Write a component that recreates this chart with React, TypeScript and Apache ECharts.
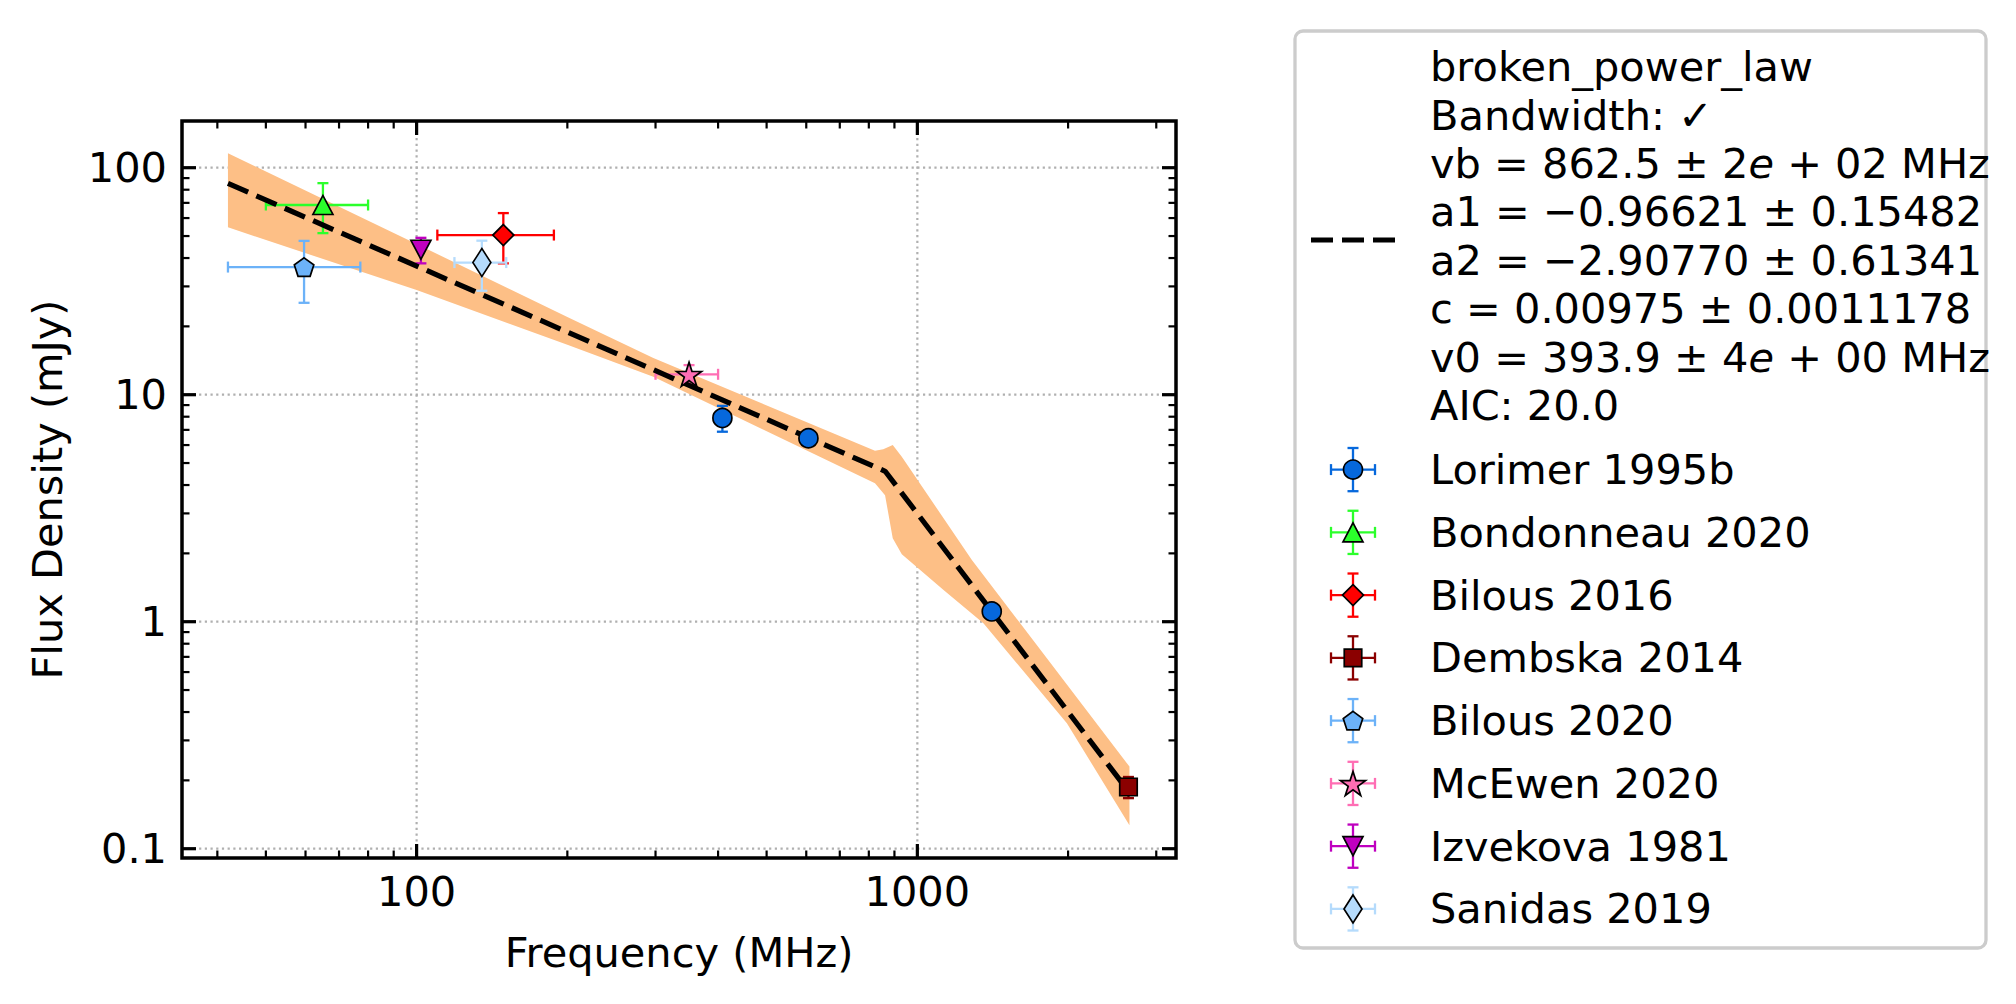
import React, { useEffect, useRef } from 'react';
import * as echarts from 'echarts';

// ---- Flux density measurements: frequency (MHz), flux (mJy), 1-sigma errors ----
const LORIMER_FREQ = [408, 606, 1408];
const LORIMER_FLUX = [7.9, 6.43, 1.11];
const LORIMER_FREQ_ERR = [0, 0, 0];
const LORIMER_FLUX_ERR = [1.03, 0.3, 0.08];

const BONDONNEAU_FREQ = [65];
const BONDONNEAU_FLUX = [68.5];
const BONDONNEAU_FREQ_ERR = [15];
const BONDONNEAU_FLUX_ERR = [17];

const BILOUS16_FREQ = [149];
const BILOUS16_FLUX = [50.5];
const BILOUS16_FREQ_ERR = [39];
const BILOUS16_FLUX_ERR = [12.6];

const DEMBSKA_FREQ = [2640];
const DEMBSKA_FLUX = [0.187];
const DEMBSKA_FREQ_ERR = [0];
const DEMBSKA_FLUX_ERR = [0.02];

const BILOUS20_FREQ = [59.6];
const BILOUS20_FLUX = [36.5];
const BILOUS20_FREQ_ERR = [17.6];
const BILOUS20_FLUX_ERR = [11.1];

const MCEWEN_FREQ = [350];
const MCEWEN_FLUX = [12.3];
const MCEWEN_FREQ_ERR = [50];
const MCEWEN_FLUX_ERR = [1.2];

const IZVEKOVA_FREQ = [102];
const IZVEKOVA_FLUX = [43.5];
const IZVEKOVA_FREQ_ERR = [0];
const IZVEKOVA_FLUX_ERR = [5.6];

const SANIDAS_FREQ = [135];
const SANIDAS_FLUX = [38.2];
const SANIDAS_FREQ_ERR = [16];
const SANIDAS_FLUX_ERR = [9.5];

// ---- Broken power-law fit (line through the break) and its uncertainty envelope ----
const FIT_FREQ = [42, 862.5, 2650];
const FIT_FLUX = [85.3, 4.6, 0.177];

const BAND_UPPER_FREQ = [42, 100, 200, 297, 823, 855, 893, 931, 1285, 2652];
const BAND_UPPER_FLUX = [115.7, 46.1, 22.0, 14.5, 5.67, 5.75, 6.0, 5.33, 1.87, 0.23];
const BAND_LOWER_FREQ = [42, 100, 200, 297, 823, 862, 893, 931, 1128, 1355, 1989, 2652];
const BAND_LOWER_FLUX = [54.6, 28.9, 16.6, 12.0, 4.07, 3.61, 2.33, 1.98, 1.38, 0.984, 0.357, 0.127];

// ---- Axes ----
const FREQ_MIN = 34.0;
const FREQ_MAX = 3285;
const FLUX_MIN = 0.091;
const FLUX_MAX = 160.6;
const FREQ_MAJOR_TICKS = [100, 1000];
const FREQ_MINOR_TICKS = [40, 50, 60, 70, 80, 90, 200, 300, 400, 500, 600, 700, 800, 900, 2000, 3000];
const FLUX_MAJOR_TICKS = [0.1, 1, 10, 100];
const FLUX_MINOR_TICKS = [
  0.2, 0.3, 0.4, 0.5, 0.6, 0.7, 0.8, 0.9,
  2, 3, 4, 5, 6, 7, 8, 9,
  20, 30, 40, 50, 60, 70, 80, 90,
];

// ---- Legend text ----
const FIT_LABEL_LINES = [
  'broken_power_law',
  'Bandwidth: ✓',
  'vb = 862.5 ± 2{it|e} + 02 MHz',
  'a1 = −0.96621 ± 0.15482',
  'a2 = −2.90770 ± 0.61341',
  'c = 0.00975 ± 0.0011178',
  'v0 = 393.9 ± 4{it|e} + 00 MHz',
  'AIC: 20.0',
];
const X_TITLE = 'Frequency (MHz)';
const Y_TITLE = 'Flux Density (mJy)';

// ---- Styling ----
const FONT = 'DejaVu Sans';
const FS = 41.5;
const BAND_COLOR = '#fdbf86';

type Shape = 'circle' | 'rect' | 'triangle' | 'triangleDown' | 'diamond' | 'pentagon' | 'star';

const UNIT_SHAPES: Record<string, number[][]> = {
  triangle: [[0, -1], [1, 1], [-1, 1]],
  triangleDown: [[-1, -1], [1, -1], [0, 1]],
  diamond: [[0, -1], [1, 0], [0, 1], [-1, 0]],
  pentagon: [[0, -1], [1, -0.236], [0.618, 1], [-0.618, 1], [-1, -0.236]],
  star: [
    [0, -1], [0.236, -0.236], [1, -0.236], [0.382, 0.236], [0.618, 1],
    [0, 0.528], [-0.618, 1], [-0.382, 0.236], [-1, -0.236], [-0.236, -0.236],
  ],
};

function symbolFor(shape: Shape): string {
  if (shape === 'circle' || shape === 'rect') return shape;
  const pts = UNIT_SHAPES[shape];
  return 'path://M' + pts.map((p) => p[0] + ',' + p[1]).join('L') + 'Z';
}

interface Survey {
  name: string;
  freq: number[];
  flux: number[];
  freqErr: number[];
  fluxErr: number[];
  color: string;
  shape: Shape;
  size: [number, number];
}

const SURVEYS: Survey[] = [
  { name: 'Lorimer 1995b', freq: LORIMER_FREQ, flux: LORIMER_FLUX, freqErr: LORIMER_FREQ_ERR, fluxErr: LORIMER_FLUX_ERR, color: '#0668dc', shape: 'circle', size: [19, 19] },
  { name: 'Bondonneau 2020', freq: BONDONNEAU_FREQ, flux: BONDONNEAU_FLUX, freqErr: BONDONNEAU_FREQ_ERR, fluxErr: BONDONNEAU_FLUX_ERR, color: '#2bff2b', shape: 'triangle', size: [20, 19] },
  { name: 'Bilous 2016', freq: BILOUS16_FREQ, flux: BILOUS16_FLUX, freqErr: BILOUS16_FREQ_ERR, fluxErr: BILOUS16_FLUX_ERR, color: '#ff0000', shape: 'diamond', size: [21, 21] },
  { name: 'Dembska 2014', freq: DEMBSKA_FREQ, flux: DEMBSKA_FLUX, freqErr: DEMBSKA_FREQ_ERR, fluxErr: DEMBSKA_FLUX_ERR, color: '#8b0000', shape: 'rect', size: [17.5, 17.5] },
  { name: 'Bilous 2020', freq: BILOUS20_FREQ, flux: BILOUS20_FLUX, freqErr: BILOUS20_FREQ_ERR, fluxErr: BILOUS20_FLUX_ERR, color: '#6cb2f8', shape: 'pentagon', size: [19.5, 18.5] },
  { name: 'McEwen 2020', freq: MCEWEN_FREQ, flux: MCEWEN_FLUX, freqErr: MCEWEN_FREQ_ERR, fluxErr: MCEWEN_FLUX_ERR, color: '#ff6eb4', shape: 'star', size: [25, 24] },
  { name: 'Izvekova 1981', freq: IZVEKOVA_FREQ, flux: IZVEKOVA_FLUX, freqErr: IZVEKOVA_FREQ_ERR, fluxErr: IZVEKOVA_FLUX_ERR, color: '#bf00bf', shape: 'triangleDown', size: [20, 19] },
  { name: 'Sanidas 2019', freq: SANIDAS_FREQ, flux: SANIDAS_FLUX, freqErr: SANIDAS_FREQ_ERR, fluxErr: SANIDAS_FLUX_ERR, color: '#b5dbfc', shape: 'diamond', size: [18, 28] },
];

const GRID = { left: 182, top: 121, width: 994, height: 737 };
const ERR_WIDTH = 2.3;
const CAP_HALF = 5.5;
const MARKER_EDGE = 1.7;

function tickLabel(v: number): string {
  const e = Math.log10(v);
  const r = Math.round(e);
  if (Math.abs(e - r) > 1e-6) return '';
  return r >= 0 ? String(Math.pow(10, r)) : Math.pow(10, r).toFixed(-r);
}

function errorBarSeries(s: Survey) {
  return {
    type: 'custom',
    name: s.name,
    z: 3,
    silent: true,
    data: s.freq.map((f, i) => [f, s.flux[i], s.freqErr[i], s.fluxErr[i]]),
    encode: { x: 0, y: 1 },
    renderItem: (_params: any, api: any) => {
      const f = api.value(0) as number;
      const v = api.value(1) as number;
      const fe = api.value(2) as number;
      const ve = api.value(3) as number;
      const style = { stroke: s.color, lineWidth: ERR_WIDTH, fill: null };
      const children: any[] = [];
      if (fe > 0) {
        const a = api.coord([f - fe, v]);
        const b = api.coord([f + fe, v]);
        children.push({ type: 'line', shape: { x1: a[0], y1: a[1], x2: b[0], y2: b[1] }, style });
        children.push({ type: 'line', shape: { x1: a[0], y1: a[1] - CAP_HALF, x2: a[0], y2: a[1] + CAP_HALF }, style });
        children.push({ type: 'line', shape: { x1: b[0], y1: b[1] - CAP_HALF, x2: b[0], y2: b[1] + CAP_HALF }, style });
      }
      if (ve > 0) {
        const a = api.coord([f, v - ve]);
        const b = api.coord([f, v + ve]);
        children.push({ type: 'line', shape: { x1: a[0], y1: a[1], x2: b[0], y2: b[1] }, style });
        children.push({ type: 'line', shape: { x1: a[0] - CAP_HALF, y1: a[1], x2: a[0] + CAP_HALF, y2: a[1] }, style });
        children.push({ type: 'line', shape: { x1: b[0] - CAP_HALF, y1: b[1], x2: b[0] + CAP_HALF, y2: b[1] }, style });
      }
      return { type: 'group', children };
    },
  };
}

function markerSeries(s: Survey) {
  return {
    type: 'scatter',
    name: s.name,
    z: 5,
    silent: true,
    data: s.freq.map((f, i) => [f, s.flux[i]]),
    symbol: symbolFor(s.shape),
    symbolSize: s.size,
    itemStyle: { color: s.color, borderColor: '#000', borderWidth: MARKER_EDGE, opacity: 1 },
    emphasis: { disabled: true },
  };
}

// Inward-pointing major and minor ticks on all four sides of the frame
function tickSeries(axis: 'x' | 'y') {
  const majors = axis === 'x' ? FREQ_MAJOR_TICKS : FLUX_MAJOR_TICKS;
  const minors = axis === 'x' ? FREQ_MINOR_TICKS : FLUX_MINOR_TICKS;
  const toItem = (t: number, major: number) => (axis === 'x' ? [t, FLUX_MIN, major] : [FREQ_MIN, t, major]);
  return {
    type: 'custom',
    z: 10,
    silent: true,
    data: [...majors.map((t) => toItem(t, 1)), ...minors.map((t) => toItem(t, 0))],
    encode: { x: 0, y: 1 },
    renderItem: (params: any, api: any) => {
      const cs = params.coordSys;
      const major = api.value(2) === 1;
      const len = major ? 14 : 7.5;
      const style = { stroke: '#000', lineWidth: major ? 3.2 : 2.2 };
      const p = api.coord([api.value(0), api.value(1)]);
      if (axis === 'x') {
        const bottom = cs.y + cs.height;
        const top = cs.y;
        return {
          type: 'group',
          children: [
            { type: 'line', shape: { x1: p[0], y1: bottom, x2: p[0], y2: bottom - len }, style },
            { type: 'line', shape: { x1: p[0], y1: top, x2: p[0], y2: top + len }, style },
          ],
        };
      }
      const left = cs.x;
      const right = cs.x + cs.width;
      return {
        type: 'group',
        children: [
          { type: 'line', shape: { x1: left, y1: p[1], x2: left + len, y2: p[1] }, style },
          { type: 'line', shape: { x1: right, y1: p[1], x2: right - len, y2: p[1] }, style },
        ],
      };
    },
  };
}

// Dotted grid lines at the major ticks only
function gridLineSeries(axis: 'x' | 'y') {
  const majors = axis === 'x' ? FREQ_MAJOR_TICKS : FLUX_MAJOR_TICKS;
  return {
    type: 'custom',
    z: 0,
    silent: true,
    data: majors.map((t) => (axis === 'x' ? [t, FLUX_MIN] : [FREQ_MIN, t])),
    encode: { x: 0, y: 1 },
    renderItem: (params: any, api: any) => {
      const cs = params.coordSys;
      const p = api.coord([api.value(0), api.value(1)]);
      const style = { stroke: '#b0b0b0', lineWidth: 2.2, lineDash: [2.2, 3.5] };
      if (axis === 'x') {
        return { type: 'line', shape: { x1: p[0], y1: cs.y, x2: p[0], y2: cs.y + cs.height }, style };
      }
      return { type: 'line', shape: { x1: cs.x, y1: p[1], x2: cs.x + cs.width, y2: p[1] }, style };
    },
  };
}

const bandSeries = {
  type: 'custom',
  z: 1,
  silent: true,
  data: [[BAND_UPPER_FREQ[0], BAND_UPPER_FLUX[0]]],
  encode: { x: 0, y: 1 },
  renderItem: (_params: any, api: any) => {
    const upper = BAND_UPPER_FREQ.map((f, i) => api.coord([f, BAND_UPPER_FLUX[i]]));
    const lower = BAND_LOWER_FREQ.map((f, i) => api.coord([f, BAND_LOWER_FLUX[i]])).reverse();
    return {
      type: 'polygon',
      shape: { points: [...upper, ...lower] },
      style: { fill: BAND_COLOR, stroke: null },
    };
  },
};

const fitSeries = {
  type: 'line',
  z: 4,
  silent: true,
  data: FIT_FREQ.map((f, i) => [f, FIT_FLUX[i]]),
  symbol: 'none',
  showSymbol: false,
  lineStyle: { color: '#000', width: 5.2, type: [22, 9] },
};

// ---- Legend drawn as graphic elements ----
const LEG = {
  x: 1295, y: 31, w: 691, h: 917,
  fitHandleX1: 1311, fitHandleX2: 1395, fitHandleY: 240,
  textX: 1430,
  fitTextY0: 66.6, fitTextStep: 48.4,
  entryY0: 469.6, entryStep: 62.76,
  handleCx: 1353, handleHalfW: 22, handleHalfH: 21.6,
};

function markerGraphic(shape: Shape, cx: number, cy: number, size: [number, number], fill: string) {
  const style = { fill, stroke: '#000', lineWidth: MARKER_EDGE };
  const [w, h] = size;
  if (shape === 'circle') return { type: 'circle', shape: { cx, cy, r: w / 2 }, style };
  if (shape === 'rect') return { type: 'rect', shape: { x: cx - w / 2, y: cy - h / 2, width: w, height: h }, style };
  const pts = UNIT_SHAPES[shape].map((p) => [cx + (p[0] * w) / 2, cy + (p[1] * h) / 2]);
  return { type: 'polygon', shape: { points: pts }, style };
}

function legendElements() {
  const els: any[] = [];
  els.push({
    type: 'rect',
    shape: { x: LEG.x, y: LEG.y, width: LEG.w, height: LEG.h, r: 8 },
    style: { fill: '#fff', stroke: '#cccccc', lineWidth: 3.3 },
    z: 100,
  });
  els.push({
    type: 'line',
    shape: { x1: LEG.fitHandleX1, y1: LEG.fitHandleY, x2: LEG.fitHandleX2, y2: LEG.fitHandleY },
    style: { stroke: '#000', lineWidth: 5.2, lineDash: [22, 9] },
    z: 101,
  });
  FIT_LABEL_LINES.forEach((line, k) => {
    els.push({
      type: 'text',
      x: LEG.textX,
      y: LEG.fitTextY0 + k * LEG.fitTextStep,
      z: 101,
      style: {
        text: line,
        fontFamily: FONT,
        fontSize: FS,
        fill: '#000',
        align: 'left',
        verticalAlign: 'middle',
        rich: { it: { fontFamily: FONT, fontSize: FS, fontStyle: 'italic', fill: '#000' } },
      },
    });
  });
  SURVEYS.forEach((s, k) => {
    const cy = LEG.entryY0 + k * LEG.entryStep;
    const cx = LEG.handleCx;
    const st = { stroke: s.color, lineWidth: ERR_WIDTH };
    const hx1 = cx - LEG.handleHalfW;
    const hx2 = cx + LEG.handleHalfW;
    const vy1 = cy - LEG.handleHalfH;
    const vy2 = cy + LEG.handleHalfH;
    const lines = [
      [hx1, cy, hx2, cy],
      [hx1, cy - CAP_HALF, hx1, cy + CAP_HALF],
      [hx2, cy - CAP_HALF, hx2, cy + CAP_HALF],
      [cx, vy1, cx, vy2],
      [cx - CAP_HALF, vy1, cx + CAP_HALF, vy1],
      [cx - CAP_HALF, vy2, cx + CAP_HALF, vy2],
    ];
    lines.forEach((l) => {
      els.push({ type: 'line', shape: { x1: l[0], y1: l[1], x2: l[2], y2: l[3] }, style: st, z: 101 });
    });
    els.push({ ...markerGraphic(s.shape, cx, cy, s.size, s.color), z: 102 });
    els.push({
      type: 'text',
      x: LEG.textX,
      y: cy,
      z: 101,
      style: { text: s.name, fontFamily: FONT, fontSize: FS, fill: '#000', align: 'left', verticalAlign: 'middle' },
    });
  });
  return els;
}

function buildOption() {
  const labelStyle = { fontFamily: FONT, fontSize: FS, color: '#000', formatter: tickLabel };
  return {
    animation: false,
    backgroundColor: '#fff',
    textStyle: { fontFamily: FONT },
    grid: {
      ...GRID,
      show: true,
      borderColor: '#000',
      borderWidth: 3.5,
      backgroundColor: 'transparent',
      containLabel: false,
      outerBoundsMode: 'none',
      z: 20,
    },
    xAxis: {
      type: 'log',
      logBase: 10,
      min: FREQ_MIN,
      max: FREQ_MAX,
      name: X_TITLE,
      nameLocation: 'middle',
      nameGap: 73.5,
      nameTextStyle: { fontFamily: FONT, fontSize: FS, color: '#000' },
      axisLine: { show: false },
      axisTick: { show: false },
      minorTick: { show: false },
      axisLabel: { ...labelStyle, margin: 12 },
      splitLine: { show: false },
    },
    yAxis: {
      type: 'log',
      logBase: 10,
      min: FLUX_MIN,
      max: FLUX_MAX,
      name: Y_TITLE,
      nameLocation: 'middle',
      nameGap: 114,
      nameRotate: 90,
      nameTextStyle: { fontFamily: FONT, fontSize: FS, color: '#000' },
      axisLine: { show: false },
      axisTick: { show: false },
      minorTick: { show: false },
      axisLabel: { ...labelStyle, margin: 15 },
      splitLine: { show: false },
    },
    series: [
      gridLineSeries('x'),
      gridLineSeries('y'),
      bandSeries,
      ...SURVEYS.map(errorBarSeries),
      fitSeries,
      ...SURVEYS.map(markerSeries),
      tickSeries('x'),
      tickSeries('y'),
    ],
    graphic: { elements: legendElements() },
  };
}

export default function App() {
  const ref = useRef<HTMLDivElement>(null);
  useEffect(() => {
    if (!ref.current) return;
    const chart = echarts.init(ref.current, null, { renderer: 'svg' });
    chart.setOption(buildOption() as any);
    return () => chart.dispose();
  }, []);
  return (
    <div
      ref={ref}
      style={{ position: 'fixed', left: 0, top: 0, width: 2016, height: 1004, background: '#fff' }}
    />
  );
}
